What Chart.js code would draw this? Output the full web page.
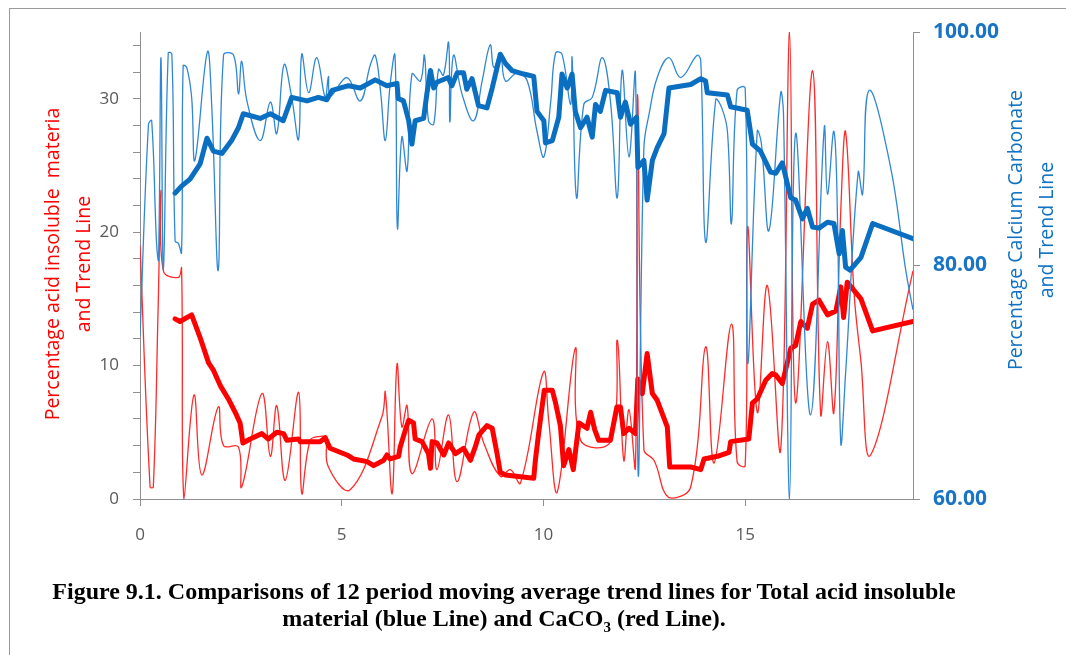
<!DOCTYPE html>
<html>
<head>
<meta charset="utf-8">
<script src="https://cdn.jsdelivr.net/npm/chart.js@4.4.0/dist/chart.umd.min.js"></script>
<style>
body { margin: 0; background: #fff; width: 1066px; height: 655px; overflow: hidden; position: relative; }
#frame { position: absolute; left: 9px; top: 8px; width: 1066px; height: 660px; border-left: 1px solid #9a9a9a; border-top: 1px solid #9a9a9a; }
#chart { position: absolute; left: 0; top: 0; }
.axtitle { position: absolute; text-align: center; white-space: pre; font-family: 'Open Sans', sans-serif; font-size: 19.5px; line-height: 31px; transform: rotate(-90deg); }
#lefttitle { color: #ff0000; width: 360px; height: 62px; left: -113px; top: 233px; }
#righttitle { color: #0f72c4; width: 340px; height: 62px; left: 860px; top: 199px; }
#caption { position: absolute; left: 0; top: 578px; width: 1008px; text-align: center; font-family: 'Liberation Serif', 'Times New Roman', serif; font-weight: bold; font-size: 24px; line-height: 27px; color: #000; }
#caption sub { font-size: 15px; line-height: 0; }
</style>
</head>
<body>
<div id="frame"></div>
<canvas id="chart" width="1066" height="655"></canvas>
<div class="axtitle" id="lefttitle">Percentage acid insoluble  materia
and Trend Line</div>
<div class="axtitle" id="righttitle">Percentage Calcium Carbonate
and Trend Line</div>
<div id="caption">Figure 9.1. Comparisons of 12 period moving average trend lines for Total acid insoluble<br>material (blue Line) and CaCO<sub>3</sub> (red Line).</div>
<script>
// raw acid insoluble material (thin red, left axis)
const acidX = [0, 0.25, 0.33, 0.45, 0.52, 0.58, 0.95, 1.03, 1.09, 1.34, 1.53, 1.94, 2.07, 2.44, 2.52, 3.02, 3.23, 3.39, 3.6, 3.93, 4.01, 4.22, 4.47, 4.6, 4.67, 5.21, 6.0, 6.08, 6.25, 6.37, 6.49, 6.62, 6.74, 7.24, 7.36, 7.65, 7.86, 8.27, 8.52, 8.93, 9.18, 9.43, 10.0, 10.13, 10.34, 10.79, 10.92, 11.66, 11.83, 11.99, 12.12, 12.28, 12.33, 12.49, 12.74, 13.11, 13.65, 14.02, 14.23, 14.66, 14.8, 15.0, 15.06, 15.3, 15.55, 15.88, 16.1, 16.25, 16.67, 16.87, 17.04, 17.2, 17.37, 17.49, 17.7, 17.87, 18.11, 19.16]
const acidY = [19, 0.9, 0.9, 14.4, 23.1, 17.1, 16.6, 17.3, 0, 7.8, 1.8, 6.9, 4.0, 3.9, 0.9, 7.9, 3.2, 7.0, 1.4, 8.0, 0.4, 4.4, 4.7, 4.6, 2.4, 0.7, 6.2, 8.0, 0.4, 10.1, 5.4, 7.0, 1.9, 6.0, 2.2, 6.3, 1.3, 6.5, 4.2, 1.7, 2.2, 1.2, 9.5, 5.9, 0.5, 11.3, 4.4, 4.3, 11.9, 2.9, 6.7, 2.4, 30.3, 3.7, 2.9, 0.1, 0.9, 11.4, 2.7, 13.1, 2.8, 2.5, 20.4, 6.5, 16.0, 3.7, 35, 7.2, 32.1, 6.4, 11.8, 6.5, 21.6, 27.5, 15.4, 10.3, 3.3, 17.1]

// 12 period moving average of acid insoluble (thick red)
const acidAvgX = [0.87, 0.99, 1.28, 1.49, 1.70, 1.82, 1.99, 2.19, 2.36, 2.48, 2.55, 2.73, 3.02, 3.18, 3.39, 3.56, 3.64, 3.93, 3.97, 4.47, 4.59, 4.71, 5.13, 5.29, 5.63, 5.79, 6.04, 6.12, 6.2, 6.41, 6.45, 6.58, 6.66, 6.78, 6.82, 6.99, 7.15, 7.2, 7.24, 7.36, 7.53, 7.65, 7.82, 8.02, 8.19, 8.31, 8.4, 8.6, 8.73, 8.85, 8.93, 9.06, 9.76, 9.8, 9.88, 10.02, 10.22, 10.3, 10.42, 10.5, 10.63, 10.74, 10.88, 11.08, 11.17, 11.27, 11.37, 11.66, 11.82, 11.91, 11.99, 12.12, 12.28, 12.34, 12.45, 12.57, 12.7, 12.82, 13.07, 13.13, 13.65, 13.9, 13.98, 14.31, 14.6, 14.64, 15.09, 15.18, 15.3, 15.51, 15.67, 15.76, 15.92, 16.13, 16.25, 16.38, 16.54, 16.67, 16.83, 17.04, 17.25, 17.37, 17.44, 17.53, 17.87, 18.16, 19.16]
const acidAvgY = [13.5, 13.3, 13.8, 12.1, 10.2, 9.65, 8.5, 7.5, 6.5, 5.7, 4.2, 4.5, 4.9, 4.5, 5.0, 4.9, 4.4, 4.5, 4.3, 4.3, 4.6, 3.8, 3.3, 3.0, 2.8, 2.5, 2.9, 3.3, 3.0, 3.2, 3.9, 5.2, 5.9, 5.7, 4.5, 4.3, 3.4, 2.3, 4.3, 4.2, 3.3, 4.2, 3.4, 3.8, 2.9, 3.9, 4.8, 5.5, 5.3, 3.4, 2.0, 1.8, 1.55, 2.9, 4.9, 8.15, 8.15, 7.2, 5.5, 2.5, 3.7, 2.2, 5.7, 5.3, 6.5, 5.2, 4.4, 4.4, 6.9, 6.9, 4.9, 5.3, 4.9, 9.0, 7.9, 10.9, 7.9, 7.4, 5.4, 2.4, 2.4, 2.2, 3.0, 3.2, 3.5, 4.3, 4.5, 7.2, 7.5, 8.9, 9.4, 9.3, 8.65, 11.3, 11.5, 13.3, 12.8, 14.6, 14.9, 13.8, 14.1, 15.9, 13.6, 16.25, 15.0, 12.6, 13.3]

// raw calcium carbonate (thin blue, right axis)
const caco3X = [0, 0.21, 0.29, 0.41, 0.46, 0.52, 0.58, 0.70, 0.79, 0.87, 0.95, 1.03, 1.07, 1.16, 1.28, 1.36, 1.67, 1.78, 1.94, 2.07, 2.32, 2.44, 2.52, 2.65, 2.98, 3.23, 3.39, 3.57, 3.76, 3.93, 4.01, 4.18, 4.38, 4.59, 4.67, 4.72, 5.13, 5.46, 5.71, 5.83, 5.96, 6.08, 6.2, 6.32, 6.38, 6.49, 6.62, 6.74, 6.95, 7.05, 7.15, 7.28, 7.4, 7.52, 7.65, 7.68, 7.77, 7.98, 8.27, 8.48, 8.68, 8.77, 8.93, 9.06, 9.35, 9.6, 9.84, 10.01, 10.18, 10.3, 10.46, 10.67, 10.71, 10.82, 11.0, 11.21, 11.46, 11.66, 11.83, 11.95, 12.12, 12.28, 12.35, 12.49, 12.62, 12.82, 13.11, 13.4, 13.81, 13.9, 14.02, 14.27, 14.42, 14.56, 14.66, 14.8, 15.0, 15.06, 15.3, 15.4, 15.59, 15.88, 15.95, 16.1, 16.25, 16.62, 16.96, 17.04, 17.2, 17.29, 17.37, 17.49, 17.8, 17.91, 18.07, 18.6, 18.98, 19.16]
const caco3Y = [74, 92.1, 92.4, 81.9, 80.5, 97.8, 79.6, 98.2, 98.1, 82.1, 81.9, 81.1, 97.1, 96.95, 94.4, 89.0, 98.3, 93.5, 79.6, 98, 98, 94.7, 97.5, 94.1, 90.7, 94, 91.3, 97.2, 94.4, 90.8, 98.1, 94.8, 97.8, 94.4, 96.2, 94.5, 96.1, 94.1, 97.2, 98, 95, 90.7, 95.5, 98, 83.2, 91, 88.1, 96.4, 95.8, 98, 92.4, 92.1, 96.8, 96.3, 99.1, 92.3, 98, 94.7, 92.4, 95.8, 98.9, 96.95, 98.1, 95.8, 96.5, 95.8, 91.5, 89.3, 94, 98.2, 98.1, 93.8, 97.8, 85.8, 93.8, 94.4, 97.8, 94.1, 85.8, 96.7, 89.3, 96.4, 62, 90.1, 93, 96.1, 97.8, 96.1, 98, 97.5, 82, 94.2, 93.5, 91.5, 83.6, 95, 95.2, 71.6, 91.5, 90.5, 83, 94.8, 93, 60, 91.3, 67.2, 91.8, 86.1, 91.5, 83.8, 64.8, 70.8, 88, 86.1, 95, 88.5, 79.6, 76.2]

// 12 period moving average of calcium carbonate (thick blue)
const caco3AvgX = [0.87, 1.03, 1.24, 1.49, 1.66, 1.82, 2.03, 2.27, 2.44, 2.56, 2.98, 3.23, 3.55, 3.76, 4.14, 4.42, 4.63, 4.76, 5.17, 5.46, 5.83, 6.12, 6.37, 6.40, 6.53, 6.66, 6.74, 6.82, 7.03, 7.11, 7.2, 7.28, 7.36, 7.64, 7.73, 7.86, 8.02, 8.1, 8.23, 8.39, 8.6, 8.73, 8.85, 8.93, 9.06, 9.22, 9.51, 9.76, 9.84, 10.01, 10.05, 10.22, 10.38, 10.46, 10.59, 10.71, 10.79, 10.92, 11.08, 11.21, 11.29, 11.41, 11.54, 11.83, 11.91, 12.03, 12.16, 12.31, 12.34, 12.49, 12.57, 12.7, 12.82, 12.99, 13.11, 13.65, 13.9, 14.02, 14.06, 14.56, 14.64, 15.05, 15.18, 15.38, 15.63, 15.76, 15.92, 16.13, 16.25, 16.42, 16.54, 16.67, 16.83, 17.04, 17.2, 17.33, 17.41, 17.49, 17.6, 17.87, 18.16, 19.16]
const caco3AvgY = [86.2, 86.8, 87.4, 88.7, 90.9, 89.8, 89.6, 90.7, 91.8, 93.0, 92.6, 93.0, 92.4, 94.4, 94.1, 94.4, 94.2, 95.0, 95.4, 95.2, 95.9, 95.4, 95.6, 94.3, 94.1, 92.4, 90.4, 92.4, 92.6, 94.7, 96.7, 95.2, 95.7, 96.1, 95.4, 96.5, 96.5, 95.1, 96.0, 93.7, 93.5, 95.2, 96.95, 98.1, 97.3, 96.7, 96.4, 96.2, 93.2, 92.4, 90.5, 90.7, 92.7, 96.4, 95.2, 96.4, 93.2, 91.8, 92.7, 91.0, 93.8, 93.2, 95.0, 94.8, 92.7, 94.0, 92.1, 92.7, 88.4, 89.0, 85.6, 89.0, 90.1, 91.3, 95.2, 95.5, 96.0, 95.8, 94.8, 94.6, 93.6, 93.3, 90.4, 89.8, 88.0, 87.9, 88.8, 85.8, 85.6, 84.0, 84.9, 83.3, 83.2, 83.7, 83.6, 81.0, 83.0, 79.85, 79.6, 80.7, 83.6, 82.3]

const xLabels = [0, 5, 10, 15]
const leftLabels = [0, 10, 20, 30]
const rightLabels = [60, 80, 100]

function pts(xs, ys) {
    return xs.map((x, i) => ({x: x, y: ys[i]}))
}

const axisGray = '#8f8f8f'
const tickFont = {family: "'Open Sans', sans-serif", size: 17}

new Chart(document.getElementById('chart'), {
    type: 'line',
    data: {
        datasets: [
            {
                data: pts(caco3AvgX, caco3AvgY), yAxisID: 'y1', order: 0,
                borderColor: '#0b6fc1', borderWidth: 5, tension: 0,
                borderJoinStyle: 'round', borderCapStyle: 'round'
            },
            {
                data: pts(caco3X, caco3Y), yAxisID: 'y1', order: 1,
                borderColor: '#3088d4', borderWidth: 1.3, tension: 0.4
            },
            {
                data: pts(acidAvgX, acidAvgY), yAxisID: 'y', order: 2,
                borderColor: '#ff0000', borderWidth: 5, tension: 0,
                borderJoinStyle: 'round', borderCapStyle: 'round'
            },
            {
                data: pts(acidX, acidY), yAxisID: 'y', order: 3,
                borderColor: '#ff2a2a', borderWidth: 1.3, tension: 0.4
            }
        ]
    },
    options: {
        responsive: false,
        animation: false,
        events: [],
        elements: { point: { radius: 0 } },
        layout: { padding: { top: 32, left: 0, right: 0, bottom: 0 } },
        plugins: { legend: { display: false }, tooltip: { enabled: false } },
        scales: {
            x: {
                type: 'linear', min: 0, max: 19.16,
                afterFit: (s) => { s.height = 156 },
                border: { display: true, color: axisGray },
                grid: { display: true, drawOnChartArea: false, drawTicks: true, tickLength: 7, color: axisGray },
                ticks: {
                    stepSize: 5, includeBounds: false, autoSkip: false, maxRotation: 0,
                    padding: 19, color: '#595959', font: tickFont,
                    callback: (v) => xLabels.includes(v) ? v : ''
                }
            },
            y: {
                position: 'left', min: 0, max: 35,
                afterFit: (s) => { s.width = 140 },
                border: { display: true, color: axisGray },
                grid: { display: true, drawOnChartArea: false, drawTicks: true, tickLength: 7, color: axisGray },
                ticks: {
                    stepSize: 2, includeBounds: false, autoSkip: false,
                    padding: 14, color: '#595959', font: tickFont,
                    callback: (v) => leftLabels.includes(v) ? v : ''
                }
            },
            y1: {
                position: 'right', min: 60, max: 100,
                afterFit: (s) => { s.width = 153 },
                border: { display: true, color: axisGray },
                grid: { display: true, drawOnChartArea: false, drawTicks: true, tickLength: 7, color: axisGray },
                ticks: {
                    stepSize: 20, autoSkip: false,
                    padding: 13, color: '#1a74c6', font: { family: "'Open Sans', sans-serif", size: 21, weight: 'bold' },
                    callback: (v) => rightLabels.includes(v) ? v.toFixed(2) : ''
                }
            }
        }
    }
})
</script>
</body>
</html>
